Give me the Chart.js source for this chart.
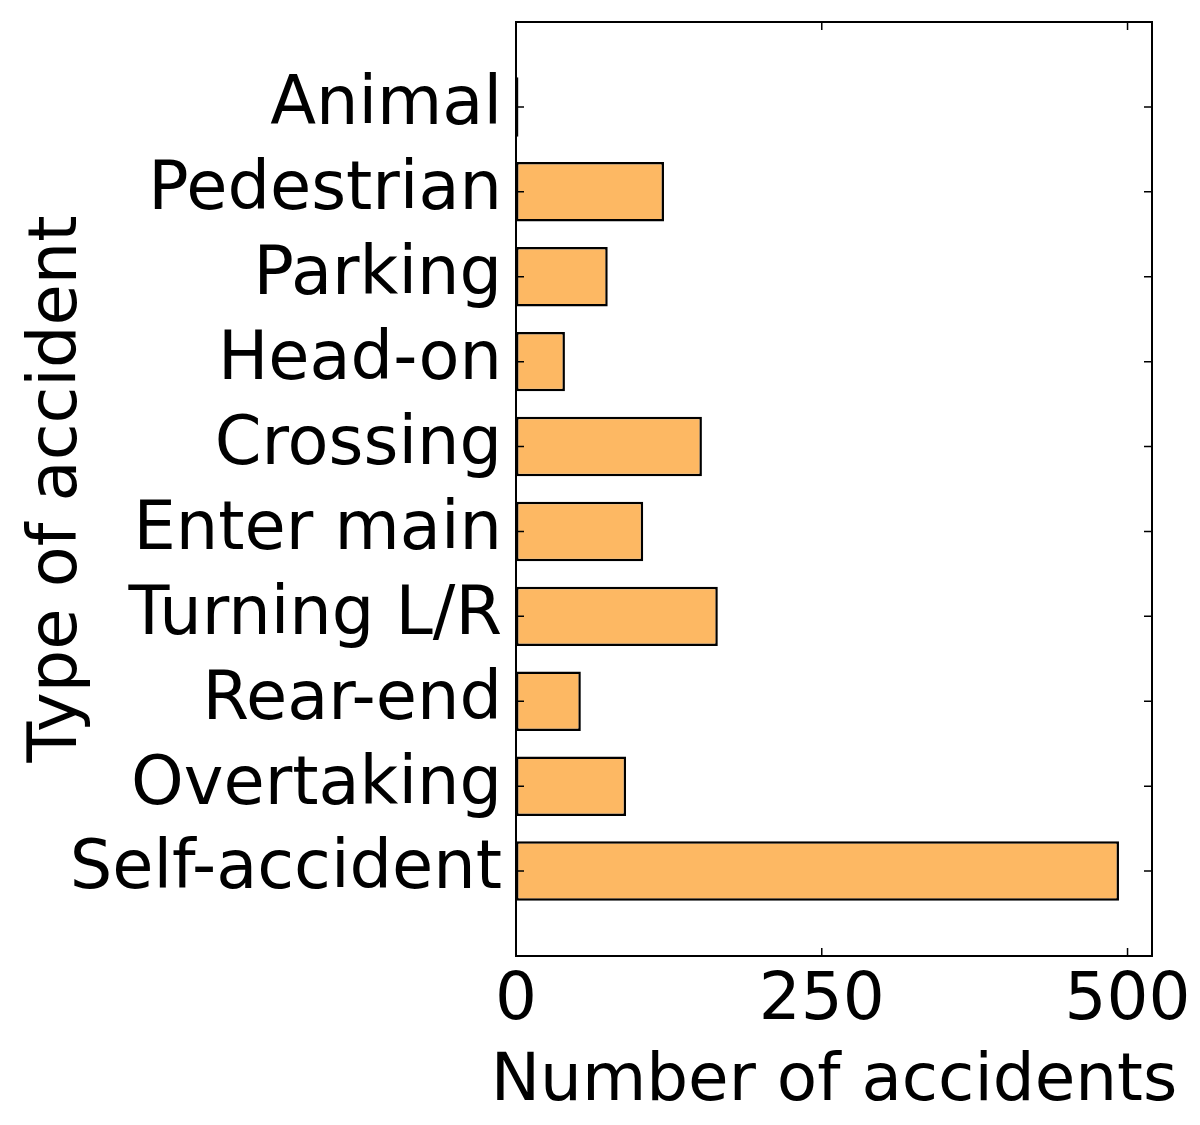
<!DOCTYPE html>
<html>
<head>
<meta charset="utf-8">
<script src="https://cdn.jsdelivr.net/npm/chart.js@4/dist/chart.umd.min.js"></script>
<style>
  html, body { margin: 0; padding: 0; background: #fff; }
  #wrap { width: 1200px; height: 1125px; }
</style>
</head>
<body>
<div id="wrap"><canvas id="chart" width="1200" height="1125"></canvas></div>
<script>
// categories listed top to bottom, as in the picture
const categories = ["Animal", "Pedestrian", "Parking", "Head-on", "Crossing",
  "Enter main", "Turning L/R", "Rear-end", "Overtaking", "Self-accident"];
const accidents = [2, 121, 75, 40, 152, 104, 165, 53, 90, 493];
const xTicks = [0, 250, 500];
const xTitle = "Number of accidents";
const yTitle = "Type of accident";

// blank slot above and below so the bars sit one full step from the frame
const labels = [""].concat(categories, [""]);
const values = [null].concat(accidents, [null]);

const FONT = "'DejaVu Sans', sans-serif";

// frame + inward ticks like the classic matplotlib style
const frameTicks = {
  id: "frameTicks",
  afterDraw(chart) {
    const ctx = chart.ctx;
    const a = chart.chartArea;
    const xs = chart.scales.x;
    const ys = chart.scales.y;
    const len = 8;
    ctx.save();
    ctx.strokeStyle = "#000";
    ctx.lineWidth = 1.5;
    ctx.beginPath();
    categories.forEach((c, i) => {
      const y = ys.getPixelForValue(i + 1);
      ctx.moveTo(a.left, y); ctx.lineTo(a.left + len, y);
      ctx.moveTo(a.right, y); ctx.lineTo(a.right - len, y);
    });
    xTicks.forEach((v) => {
      const x = xs.getPixelForValue(v);
      ctx.moveTo(x, a.top); ctx.lineTo(x, a.top + len);
      ctx.moveTo(x, a.bottom); ctx.lineTo(x, a.bottom - len);
    });
    ctx.stroke();
    ctx.lineWidth = 2;
    ctx.strokeRect(a.left, a.top, a.right - a.left, a.bottom - a.top);

    // x title drawn here: the scale title gets squeezed to the axis width
    ctx.fillStyle = "#000";
    ctx.font = "66px " + FONT;
    ctx.textAlign = "center";
    ctx.textBaseline = "alphabetic";
    ctx.fillText(xTitle, (a.left + a.right) / 2, 1100);
    ctx.restore();
  }
};

new Chart(document.getElementById("chart"), {
  type: "bar",
  data: {
    labels: labels,
    datasets: [{
      data: values,
      backgroundColor: "#fdb863",
      borderColor: "#000",
      borderWidth: 2.5,
      borderSkipped: false,
      barPercentage: 0.7,
      categoryPercentage: 1.0
    }]
  },
  options: {
    indexAxis: "y",
    responsive: false,
    animation: false,
    layout: { padding: { top: 22, right: 48, left: 0, bottom: 0 } },
    plugins: { legend: { display: false }, tooltip: { enabled: false } },
    scales: {
      x: {
        type: "linear",
        min: 0,
        max: 520,
        grid: { display: false, drawTicks: false, tickLength: 0 },
        border: { display: false },
        afterBuildTicks: (s) => { s.ticks = xTicks.map((v) => ({ value: v })); },
        afterFit: (s) => {
          s.height = 169;
          s.paddingLeft = 0;
          s.paddingRight = 0;
        },
        ticks: {
          autoSkip: false,
          maxRotation: 0,
          padding: 6,
          color: "#000",
          font: { family: FONT, size: 66 }
        },
        title: { display: false }
      },
      y: {
        type: "category",
        offset: false,
        grid: { display: false, drawTicks: false, tickLength: 0 },
        border: { display: false },
        afterFit: (s) => {
          s.width = 516;
          s.paddingTop = 0;
          s.paddingBottom = 0;
        },
        ticks: {
          autoSkip: false,
          padding: 14,
          color: "#000",
          font: { family: FONT, size: 67 }
        },
        title: {
          display: true,
          text: yTitle,
          color: "#000",
          padding: { top: 18, bottom: 0 },
          font: { family: FONT, size: 67 }
        }
      }
    }
  },
  plugins: [frameTicks]
});
</script>
</body>
</html>
